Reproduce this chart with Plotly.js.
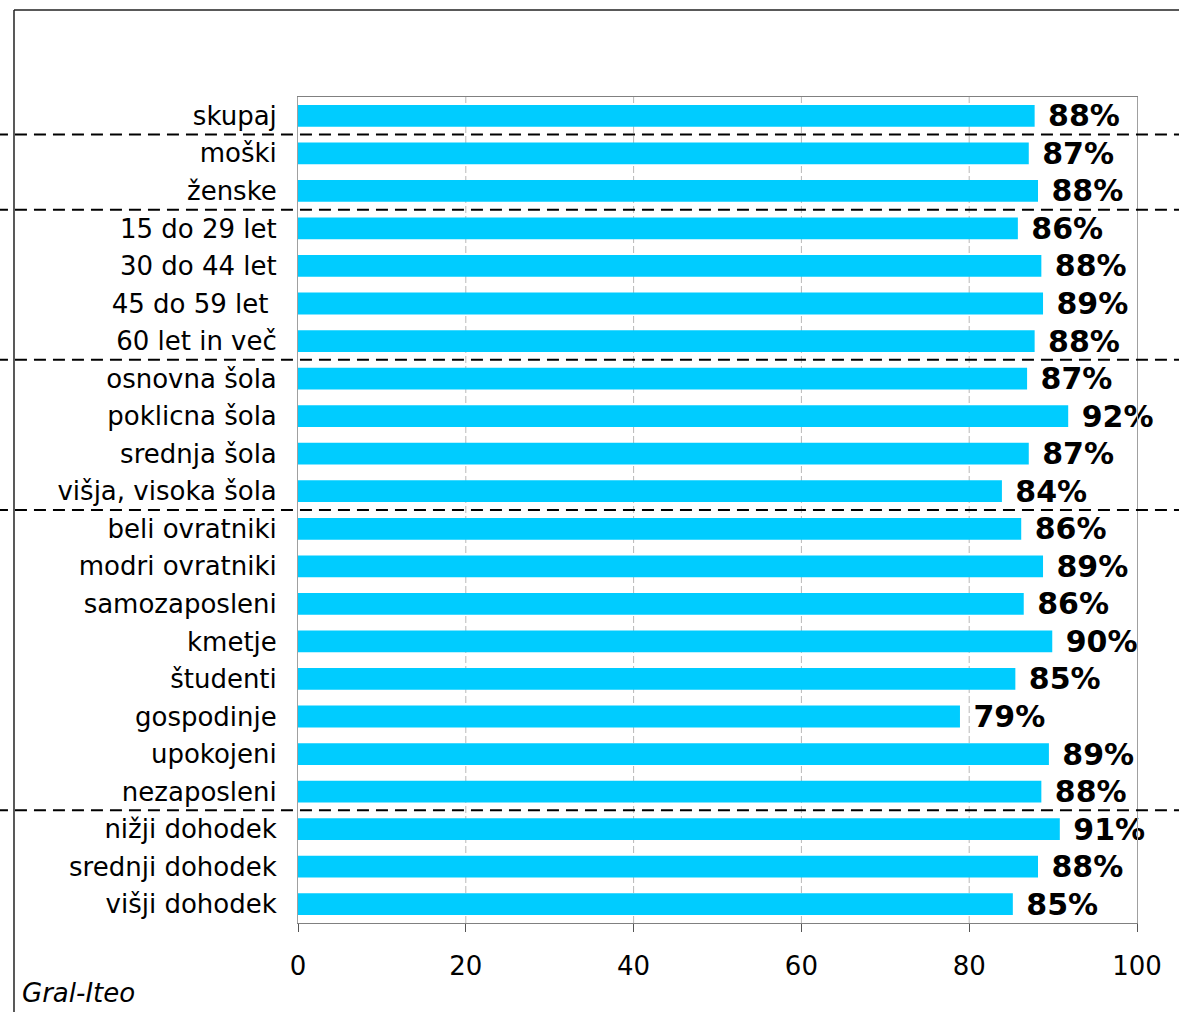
<!DOCTYPE html>
<html>
<head>
<meta charset="utf-8">
<script src="https://cdn.plot.ly/plotly-3.0.1.min.js"></script>
<style>html,body{margin:0;padding:0;background:#fff;}#chart{width:1179px;height:1012px;}</style>
</head>
<body>
<div id="chart"></div>
<script>
const categories = ["skupaj","moški","ženske","15 do 29 let","30 do 44 let","45 do 59 let ","60 let in več","osnovna šola","poklicna šola","srednja šola","višja, visoka šola","beli ovratniki","modri ovratniki","samozaposleni","kmetje","študenti","gospodinje","upokojeni","nezaposleni","nižji dohodek","srednji dohodek","višji dohodek"];
const values = [87.8,87.1,88.2,85.8,88.6,88.8,87.8,86.9,91.8,87.1,83.9,86.2,88.8,86.5,89.9,85.5,78.9,89.5,88.6,90.8,88.2,85.2];
const valueLabels = ["88%","87%","88%","86%","88%","89%","88%","87%","92%","87%","84%","86%","89%","86%","90%","85%","79%","89%","88%","91%","88%","85%"];
const groupBreaks = [0.5, 2.5, 6.5, 10.5, 18.5];
const xTicks = [0,20,40,60,80,100];
const sourceNote = "Gral-Iteo";

const font = "DejaVu Sans, Verdana, sans-serif";

const shapes = [];
// vertical dashed gridlines
xTicks.slice(1,-1).forEach(v => shapes.push({type:'line', xref:'x', yref:'paper', x0:v, x1:v, y0:0, y1:1,
  line:{color:'#b8b8b8', width:1, dash:'7px,3px'}, layer:'below'}));
// group separators
groupBreaks.forEach(b => shapes.push({type:'line', xref:'paper', yref:'y', x0:-0.36, x1:1.06, y0:b, y1:b,
  line:{color:'#000', width:2, dash:'12px,7px'}, layer:'above'}));
// outer frame (top and left)
shapes.push({type:'line', xref:'paper', yref:'paper', x0:-0.3385, x1:1.1, y0:1.1054, y1:1.1054, line:{color:'#222', width:1.5}});
shapes.push({type:'line', xref:'paper', yref:'paper', x0:-0.3385, x1:-0.3385, y0:1.1054, y1:-0.2, line:{color:'#222', width:1.5}});

const data = [{
  type:'bar', orientation:'h',
  y: categories, x: values,
  marker:{color:'#00CCFF', line:{width:0}},
  width:0.58,
  text: valueLabels.map(t => '\u00a0' + t), textposition:'outside', cliponaxis:false, constraintext:'none',
  textfont:{family:font, size:30, color:'#000', weight:'bold'},
  hoverinfo:'none'
}];

const layout = {
  width:1179, height:1012,
  margin:{l:298, r:42, t:97, b:89},
  paper_bgcolor:'#fff', plot_bgcolor:'#fff',
  showlegend:false,
  font:{family:font, size:26, color:'#000'},
  xaxis:{range:[0,100], tickvals:xTicks, showgrid:false, zeroline:false,
    showline:true, linecolor:'#808080', linewidth:1, mirror:true,
    ticks:'outside', ticklen:8, tickcolor:'#555', ticklabelstandoff:12, tickfont:{family:font, size:26, color:'#000'}},
  yaxis:{autorange:'reversed', type:'category', showgrid:false, zeroline:false,
    showline:true, linecolor:'#a0a0a0', linewidth:1, mirror:true, ticks:'', ticklabelstandoff:15,
    tickfont:{family:font, size:26, color:'#000'}},
  shapes: shapes,
  annotations:[{text:sourceNote, xref:'paper', yref:'paper', x:-0.331, y:-0.085, xanchor:'left', yanchor:'middle',
    showarrow:false, font:{family:font, size:26, style:'italic', color:'#000'}}]
};

Plotly.newPlot('chart', data, layout, {displayModeBar:false, staticPlot:true});
</script>
</body>
</html>
